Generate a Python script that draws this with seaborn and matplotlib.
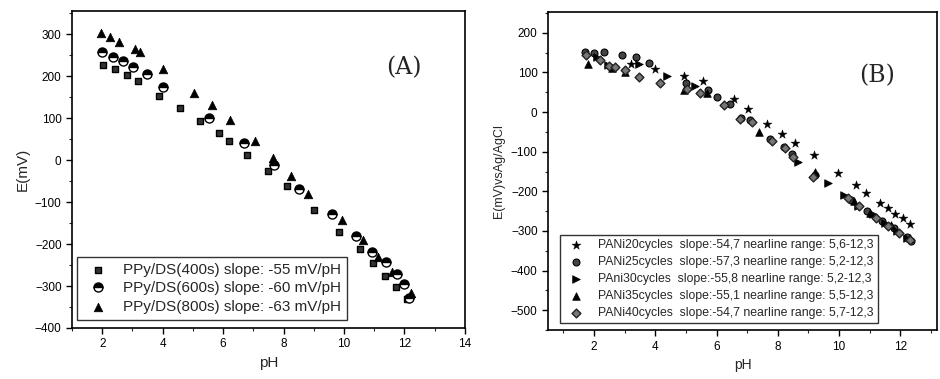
import matplotlib
matplotlib.use("Agg")
import matplotlib.pyplot as plt
from matplotlib.ticker import MultipleLocator
import seaborn as sns
import numpy as np

sns.set_theme(style="ticks")
plt.rcParams['font.family'] = ['Liberation Sans', 'DejaVu Sans']

# ---------------- Panel A data ----------------
ph_400 = [2.02, 2.43, 2.82, 3.18, 3.89, 4.57, 5.23, 5.85, 6.2, 6.79, 7.47, 8.1, 9.0, 9.83, 10.52, 10.96, 11.36, 11.73, 12.1]
e_400 = [226, 216, 202, 189, 153, 124, 93, 65, 45, 12, -25, -62, -120, -172, -213, -245, -275, -303, -330]

ph_600 = [1.99, 2.34, 2.7, 3.02, 3.47, 4.0, 5.52, 6.7, 7.67, 8.51, 9.59, 10.38, 10.92, 11.39, 11.75, 11.97, 12.15]
e_600 = [257, 246, 235, 222, 204, 173, 99, 41, -12, -68, -128, -180, -218, -244, -272, -296, -328]

ph_800 = [1.96, 2.26, 2.57, 3.07, 3.25, 4.02, 5.03, 5.64, 6.23, 7.04, 7.66, 8.24, 8.81, 9.92, 10.63, 11.14, 11.6, 12.2]
e_800 = [302, 292, 282, 264, 258, 216, 160, 130, 96, 45, 4, -38, -82, -143, -191, -231, -267, -316]

labels_a = ["PPy/DS(400s) slope: -55 mV/pH",
            "PPy/DS(600s) slope: -60 mV/pH",
            "PPy/DS(800s) slope: -63 mV/pH"]

# ---------------- Panel B data ----------------
ph_20 = [3.2, 3.99, 4.93, 5.56, 6.58, 7.03, 7.65, 8.14, 8.55, 9.17, 9.96, 10.55, 10.87, 11.32, 11.59, 11.81, 12.07, 12.32]
e_20 = [122, 109, 92, 78, 32, 7, -29, -56, -77, -109, -153, -184, -205, -229, -243, -256, -268, -283]

ph_25 = [1.7, 2.0, 2.33, 2.92, 3.36, 3.8, 5.0, 5.72, 6.0, 6.45, 6.8, 7.1, 7.75, 8.2, 8.45, 9.2, 10.4, 10.9, 11.4, 11.8, 12.2, 12.35]
e_25 = [152, 150, 151, 143, 139, 123, 72, 55, 38, 21, -14, -21, -67, -88, -105, -158, -222, -250, -275, -293, -315, -325]

ph_30 = [2.1, 2.45, 3.47, 4.39, 5.3, 8.65, 9.65, 10.15, 10.63, 11.1, 11.5, 11.9, 12.2]
e_30 = [140, 118, 122, 90, 65, -127, -179, -209, -238, -258, -280, -300, -318]

ph_35 = [1.81, 2.6, 3.0, 4.95, 5.7, 7.37, 9.2, 10.5, 11.0, 11.7, 12.3]
e_35 = [120, 112, 100, 55, 48, -50, -150, -225, -255, -285, -318]

ph_40 = [1.75, 2.2, 2.5, 2.7, 3.0, 3.47, 4.15, 5.05, 5.45, 6.25, 6.75, 7.15, 7.8, 8.25, 8.5, 9.15, 10.3, 10.65, 11.2, 11.6, 11.95, 12.3]
e_40 = [145, 130, 116, 113, 105, 88, 73, 58, 49, 17, -18, -25, -72, -90, -113, -165, -218, -237, -268, -288, -305, -322]

labels_b = ["PANi20cycles  slope:-54,7 nearline range: 5,6-12,3",
            "PANi25cycles  slope:-57,3 nearline range: 5,2-12,3",
            "PAni30cycles  slope:-55,8 nearline range: 5,2-12,3",
            "PANi35cycles  slope:-55,1 nearline range: 5,5-12,3",
            "PANi40cycles  slope:-54,7 nearline range: 5,7-12,3"]

fig = plt.figure(figsize=(9.4, 3.79), dpi=100)
axA = fig.add_axes([0.0766, 0.1346, 0.418, 0.8364])
axB = fig.add_axes([0.583, 0.129, 0.414, 0.839])

# ----- Panel A -----
sns.scatterplot(x=ph_400, y=e_400, ax=axA, marker="s", s=22, color="#333333",
                edgecolor="black", linewidth=1.0, label=labels_a[0])
sns.lineplot(x=ph_600, y=e_600, ax=axA, estimator=None, sort=False, linestyle="",
             marker="o", markersize=6.5, fillstyle="top", color="black",
             markerfacecoloralt="white", markeredgecolor="black", markeredgewidth=1.0,
             label=labels_a[1])
sns.scatterplot(x=ph_800, y=e_800, ax=axA, marker="^", s=38, color="black",
                edgecolor="black", linewidth=0.5, label=labels_a[2])

axA.set_xlim(1, 14)
axA.set_ylim(-400, 355)
axA.xaxis.set_major_locator(MultipleLocator(2))
axA.xaxis.set_minor_locator(MultipleLocator(1))
axA.yaxis.set_major_locator(MultipleLocator(100))
axA.yaxis.set_minor_locator(MultipleLocator(50))
axA.set_xlabel("pH", fontsize=11)
axA.set_ylabel("E(mV)", fontsize=11)
axA.text(0.845, 0.82, "(A)", transform=axA.transAxes, fontsize=17,
         family="DejaVu Serif", ha="center", va="center")
legA = axA.legend(loc="lower left", fontsize=11, frameon=True, fancybox=False,
                  edgecolor="black", borderpad=0.4, handletextpad=0.6,
                  labelspacing=0.3, bbox_to_anchor=(0.012, 0.025),
                  borderaxespad=0.0)
legA.get_frame().set_linewidth(1.0)

# ----- Panel B -----
sns.scatterplot(x=ph_20, y=e_20, ax=axB, marker="*", s=45, color="black",
                edgecolor="black", linewidth=0.3, label=labels_b[0])
sns.scatterplot(x=ph_25, y=e_25, ax=axB, marker="o", s=25, color="#444444",
                edgecolor="black", linewidth=0.8, label=labels_b[1])
sns.scatterplot(x=ph_30, y=e_30, ax=axB, marker=">", s=30, color="black",
                edgecolor="black", linewidth=0.5, label=labels_b[2])
sns.scatterplot(x=ph_35, y=e_35, ax=axB, marker="^", s=30, color="black",
                edgecolor="black", linewidth=0.5, label=labels_b[3])
sns.scatterplot(x=ph_40, y=e_40, ax=axB, marker="D", s=20, color="#777777",
                edgecolor="#222222", linewidth=1.0, label=labels_b[4])

axB.set_xlim(0.5, 13.2)
axB.set_ylim(-550, 252)
axB.xaxis.set_major_locator(MultipleLocator(2))
axB.xaxis.set_minor_locator(MultipleLocator(1))
axB.yaxis.set_major_locator(MultipleLocator(100))
axB.yaxis.set_minor_locator(MultipleLocator(50))
axB.set_xlabel("pH", fontsize=10)
axB.set_ylabel("E(mV)vsAg/AgCl", fontsize=9)
axB.text(0.845, 0.8, "(B)", transform=axB.transAxes, fontsize=17,
         family="DejaVu Serif", ha="center", va="center")
legB = axB.legend(loc="lower left", fontsize=8.8, frameon=True, fancybox=False,
                  edgecolor="black", borderpad=0.35, handletextpad=0.8,
                  labelspacing=0.4, bbox_to_anchor=(0.03, 0.022),
                  borderaxespad=0.0)
legB.get_frame().set_linewidth(1.0)

for ax in (axA, axB):
    for sp in ax.spines.values():
        sp.set_visible(True)
        sp.set_linewidth(1.2)
        sp.set_color("black")
    ax.tick_params(which="major", direction="out", length=4, width=1,
                   labelsize=8.5, colors="black")
    ax.tick_params(which="minor", direction="out", length=2, width=0.8)
    ax.tick_params(axis="x", which="both", top=False)
    ax.tick_params(axis="y", which="both", right=False)

fig.savefig("out.png", dpi=100)
